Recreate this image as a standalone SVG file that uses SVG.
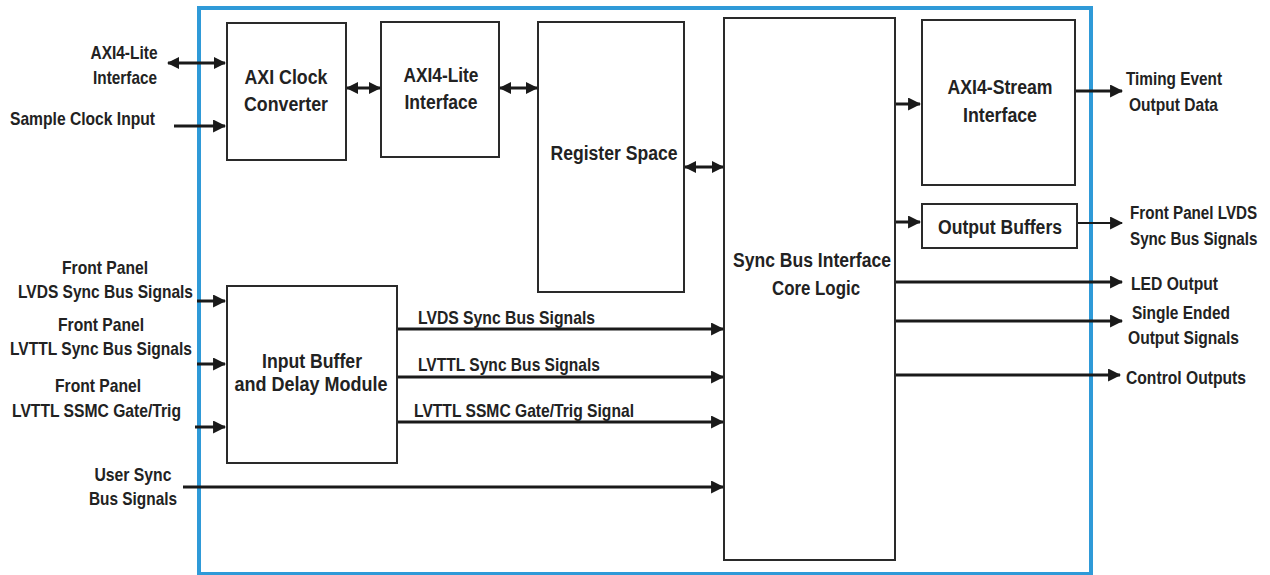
<svg xmlns="http://www.w3.org/2000/svg" width="1270" height="575" viewBox="0 0 1270 575">
<defs>
<marker id="ah" viewBox="0 0 12 12" refX="11" refY="6" markerWidth="13" markerHeight="13" markerUnits="userSpaceOnUse" orient="auto-start-reverse">
<path d="M0,0 L12,6 L0,12 z" fill="#1a1a1a"/>
</marker>
<marker id="ahs" viewBox="0 0 12 12" refX="11" refY="6" markerWidth="12" markerHeight="12" markerUnits="userSpaceOnUse" orient="auto-start-reverse">
<path d="M0,0 L12,6 L0,12 z" fill="#1a1a1a"/>
</marker>
<style>
.box{fill:#fff;stroke:#2a2a2a;stroke-width:2}
.t{font-family:"Liberation Sans",Arial,sans-serif;font-weight:bold;font-size:19px;fill:#222}
.bt{font-family:"Liberation Sans",Arial,sans-serif;font-weight:bold;font-size:20px;fill:#222}
.m{text-anchor:middle}
.c{fill:none;stroke:#1a1a1a;stroke-width:3}
.c2{fill:none;stroke:#1a1a1a;stroke-width:1.8}
.a{marker-end:url(#ah)}
.b{marker-start:url(#ahs);marker-end:url(#ahs)}
</style>
</defs>
<rect x="0" y="0" width="1270" height="575" fill="#fff"/>
<rect id="frame" x="199" y="8" width="892" height="566" fill="none" stroke="#2f9ad8" stroke-width="4"/>

<g id="axi-clock-converter">
<rect class="box" x="227" y="23" width="119" height="137"/>
<text class="bt m" x="286" y="84" textLength="83" lengthAdjust="spacingAndGlyphs">AXI Clock</text>
<text class="bt m" x="286" y="111" textLength="84" lengthAdjust="spacingAndGlyphs">Converter</text>
</g>
<g id="axi4-lite-interface">
<rect class="box" x="381" y="22" width="118" height="135"/>
<text class="bt m" x="441" y="82" textLength="75" lengthAdjust="spacingAndGlyphs">AXI4-Lite</text>
<text class="bt m" x="441" y="109" textLength="73" lengthAdjust="spacingAndGlyphs">Interface</text>
</g>
<g id="register-space">
<rect class="box" x="538" y="22" width="146" height="270"/>
<text class="bt m" x="614" y="160" textLength="127" lengthAdjust="spacingAndGlyphs">Register Space</text>
</g>
<g id="sync-bus-core">
<rect class="box" x="724" y="18" width="171" height="542"/>
<text class="bt m" x="812" y="267" textLength="158" lengthAdjust="spacingAndGlyphs">Sync Bus Interface</text>
<text class="bt m" x="816" y="295" textLength="88" lengthAdjust="spacingAndGlyphs">Core Logic</text>
</g>
<g id="axi4-stream-interface">
<rect class="box" x="922" y="20" width="153" height="165"/>
<text class="bt m" x="1000" y="94" textLength="105" lengthAdjust="spacingAndGlyphs">AXI4-Stream</text>
<text class="bt m" x="1000" y="122" textLength="74" lengthAdjust="spacingAndGlyphs">Interface</text>
</g>
<g id="output-buffers">
<rect class="box" x="922" y="204" width="155" height="44"/>
<text class="bt m" x="1000" y="234" textLength="124" lengthAdjust="spacingAndGlyphs">Output Buffers</text>
</g>
<g id="input-buffer">
<rect class="box" x="227" y="286" width="170" height="177"/>
<text class="bt m" x="312" y="368" textLength="100" lengthAdjust="spacingAndGlyphs">Input Buffer</text>
<text class="bt m" x="311" y="391" textLength="153" lengthAdjust="spacingAndGlyphs">and Delay Module</text>
</g>

<g id="connectors">
<line class="c b" x1="168" y1="63" x2="225" y2="63"/>
<line class="c a" x1="174" y1="126" x2="225" y2="126"/>
<line class="c b" x1="347" y1="88" x2="380" y2="88"/>
<line class="c b" x1="500" y1="88" x2="537" y2="88"/>
<line class="c b" x1="685" y1="167" x2="723" y2="167"/>
<line class="c a" x1="896" y1="104" x2="920" y2="104"/>
<line class="c a" x1="1076" y1="91" x2="1122" y2="91"/>
<line class="c a" x1="896" y1="222" x2="920" y2="222"/>
<line class="c2 a" x1="1078" y1="223" x2="1122" y2="223"/>
<line class="c a" x1="896" y1="282" x2="1122" y2="282"/>
<line class="c a" x1="896" y1="321" x2="1122" y2="321"/>
<line class="c a" x1="896" y1="375" x2="1120" y2="375"/>
<line class="c a" x1="197" y1="301" x2="225" y2="301"/>
<line class="c a" x1="197" y1="364" x2="225" y2="364"/>
<line class="c a" x1="195" y1="427" x2="225" y2="427"/>
<line class="c a" x1="398" y1="329" x2="723" y2="329"/>
<line class="c a" x1="398" y1="377" x2="723" y2="377"/>
<line class="c a" x1="398" y1="422" x2="723" y2="422"/>
<line class="c a" x1="183" y1="487" x2="723" y2="487"/>
</g>

<g id="labels">
<text class="t m" x="124" y="59" textLength="67" lengthAdjust="spacingAndGlyphs">AXI4-Lite</text>
<text class="t m" x="125" y="84" textLength="64" lengthAdjust="spacingAndGlyphs">Interface</text>
<text class="t" x="10" y="125" textLength="145" lengthAdjust="spacingAndGlyphs">Sample Clock Input</text>
<text class="t m" x="105" y="274" textLength="86" lengthAdjust="spacingAndGlyphs">Front Panel</text>
<text class="t" x="18" y="298" textLength="175" lengthAdjust="spacingAndGlyphs">LVDS Sync Bus Signals</text>
<text class="t m" x="101" y="331" textLength="86" lengthAdjust="spacingAndGlyphs">Front Panel</text>
<text class="t" x="10" y="355" textLength="182" lengthAdjust="spacingAndGlyphs">LVTTL Sync Bus Signals</text>
<text class="t m" x="98" y="392" textLength="86" lengthAdjust="spacingAndGlyphs">Front Panel</text>
<text class="t" x="12" y="417" textLength="169" lengthAdjust="spacingAndGlyphs">LVTTL SSMC Gate/Trig</text>
<text class="t m" x="133" y="481" textLength="77" lengthAdjust="spacingAndGlyphs">User Sync</text>
<text class="t m" x="133" y="505" textLength="88" lengthAdjust="spacingAndGlyphs">Bus Signals</text>
<text class="t" x="418" y="324" textLength="177" lengthAdjust="spacingAndGlyphs">LVDS Sync Bus Signals</text>
<text class="t" x="418" y="371" textLength="182" lengthAdjust="spacingAndGlyphs">LVTTL Sync Bus Signals</text>
<text class="t" x="414" y="417" textLength="220" lengthAdjust="spacingAndGlyphs">LVTTL SSMC Gate/Trig Signal</text>
<text class="t" x="1126" y="85" textLength="96" lengthAdjust="spacingAndGlyphs">Timing Event</text>
<text class="t" x="1129" y="111" textLength="89" lengthAdjust="spacingAndGlyphs">Output Data</text>
<text class="t" transform="translate(1130,219) scale(0.8,1)" x="0" y="0">Front Panel LVDS</text>
<text class="t" transform="translate(1130,245) scale(0.8,1)" x="0" y="0">Sync Bus Signals</text>
<text class="t" x="1131" y="290" textLength="87" lengthAdjust="spacingAndGlyphs">LED Output</text>
<text class="t" x="1132" y="319" textLength="98" lengthAdjust="spacingAndGlyphs">Single Ended</text>
<text class="t" x="1128" y="344" textLength="111" lengthAdjust="spacingAndGlyphs">Output Signals</text>
<text class="t" x="1126" y="384" textLength="120" lengthAdjust="spacingAndGlyphs">Control Outputs</text>
</g>
</svg>
